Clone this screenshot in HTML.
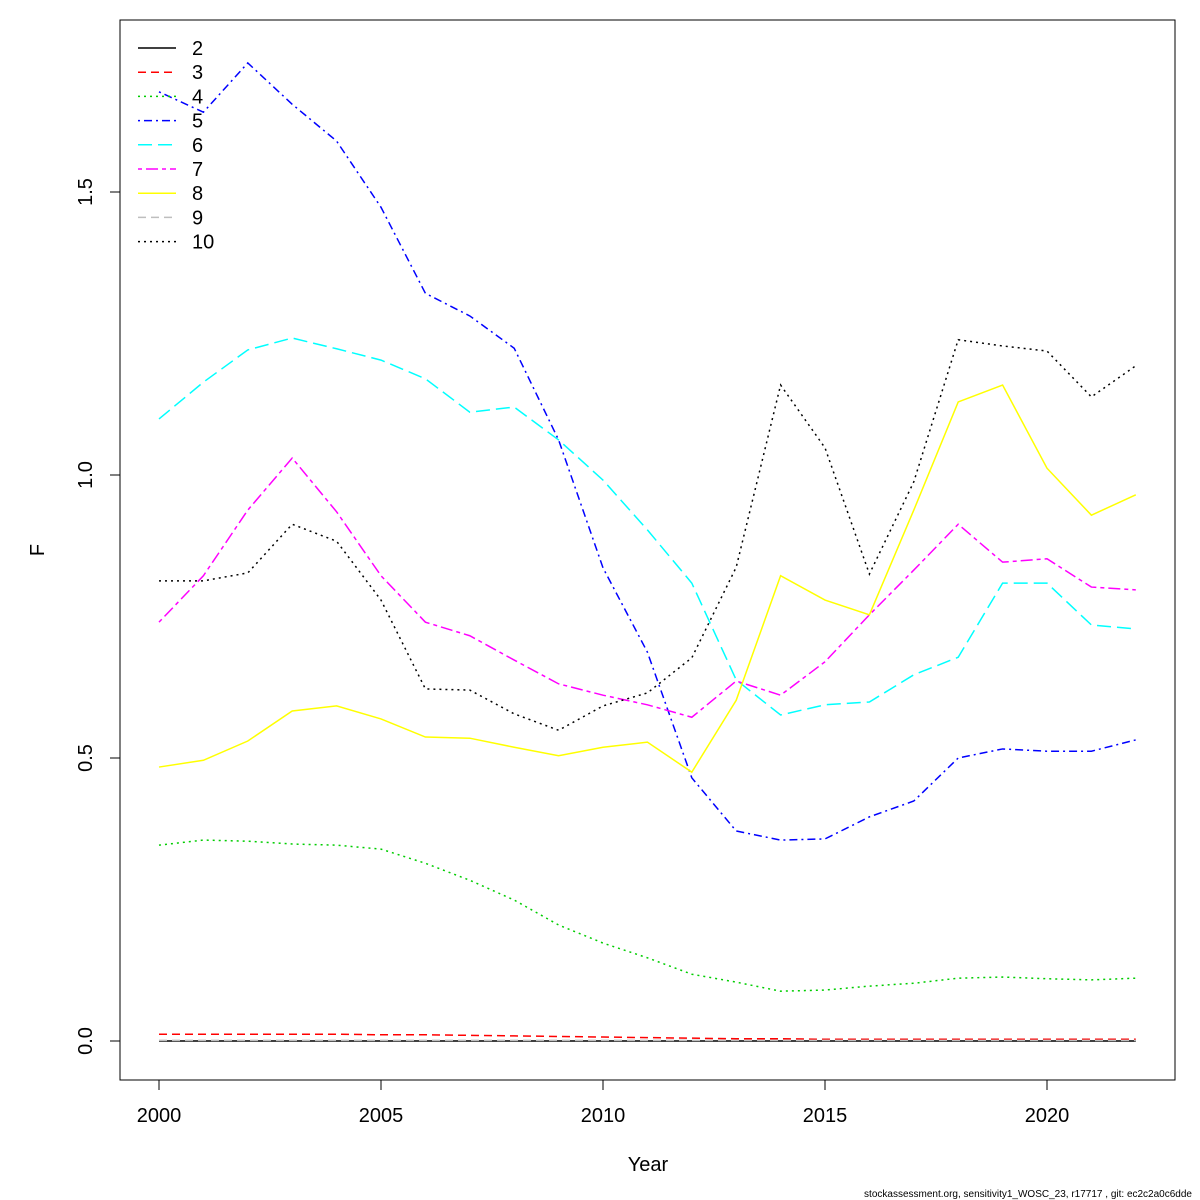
<!DOCTYPE html>
<html><head><meta charset="utf-8"><style>body{margin:0;background:#fff}svg{display:block}text{font-family:"Liberation Sans",sans-serif}</style></head>
<body>
<svg id="chart" width="1200" height="1200" xmlns="http://www.w3.org/2000/svg">
<rect x="0" y="0" width="1200" height="1200" fill="#fff"/>
<rect x="120" y="20" width="1055" height="1060" fill="none" stroke="#000" stroke-width="1"/>
<g id="axes"></g><g id="series"></g><g id="legend"></g>
<text x="648" y="1171" font-size="20" text-anchor="middle">Year</text>
<text x="0" y="0" font-size="20" text-anchor="middle" transform="translate(44,550) rotate(-90)">F</text>
<text x="1192" y="1197" font-size="10" text-anchor="end">stockassessment.org, sensitivity1_WOSC_23, r17717 , git: ec2c2a0c6dde</text>
</svg>
<script>
const years=[2000,2001,2002,2003,2004,2005,2006,2007,2008,2009,2010,2011,2012,2013,2014,2015,2016,2017,2018,2019,2020,2021,2022];
const xTicks=[2000,2005,2010,2015,2020];
const yTicks=[0.0,0.5,1.0,1.5];
const yTickLabels=["0.0","0.5","1.0","1.5"];
const seriesNames=["2","3","4","5","6","7","8","9","10"];
const age2=[0,0,0,0,0,0,0,0,0,0,0,0,0,0,0,0,0,0,0,0,0,0,0];
const age3=[0.012,0.012,0.012,0.012,0.012,0.011,0.011,0.010,0.009,0.008,0.007,0.006,0.005,0.004,0.004,0.003,0.003,0.003,0.003,0.003,0.003,0.003,0.003];
const age4=[0.346,0.355,0.353,0.348,0.346,0.339,0.314,0.284,0.249,0.205,0.173,0.147,0.118,0.104,0.088,0.090,0.097,0.102,0.111,0.113,0.110,0.108,0.111];
const age5=[1.677,1.641,1.728,1.655,1.59,1.473,1.321,1.281,1.224,1.062,0.836,0.687,0.465,0.371,0.355,0.357,0.396,0.424,0.5,0.516,0.512,0.512,0.532];
const age6=[1.099,1.164,1.221,1.242,1.223,1.203,1.170,1.111,1.12,1.062,0.991,0.903,0.809,0.638,0.576,0.594,0.599,0.647,0.678,0.809,0.809,0.735,0.728];
const age7=[0.740,0.822,0.938,1.03,0.935,0.822,0.740,0.716,0.673,0.631,0.611,0.594,0.572,0.636,0.611,0.670,0.753,0.832,0.913,0.846,0.852,0.802,0.797];
const age8=[0.484,0.496,0.530,0.583,0.592,0.569,0.537,0.535,0.519,0.504,0.519,0.528,0.475,0.602,0.822,0.779,0.753,0.938,1.129,1.159,1.012,0.929,0.965];
const age9=[0.001,0.001,0.001,0.001,0.001,0.001,0.001,0.001,0.001,0.001,0.001,0.001,0.001,0.001,0.001,0.001,0.001,0.001,0.001,0.001,0.001,0.001,0.001];
const age10=[0.813,0.813,0.827,0.913,0.883,0.779,0.622,0.620,0.578,0.549,0.592,0.615,0.677,0.837,1.159,1.048,0.825,0.988,1.239,1.228,1.219,1.138,1.193];
const allSeries=[age2,age3,age4,age5,age6,age7,age8,age9,age10];
const colors=["#000","#ff0000","#00cd00","#0000ff","#00ffff","#ff00ff","#ffff00","#bebebe","#000"];
const dashes=["","8,5","2,4","2,4,8,4","14,6","4,4,12,4","","8,5","2,4"];
const NS="http://www.w3.org/2000/svg";
const xs=y=>159+(y-2000)*44.4;
const ys=v=>1041-v*566;
function mk(tag,attrs,parent){const e=document.createElementNS(NS,tag);for(const k in attrs)e.setAttribute(k,attrs[k]);parent.appendChild(e);return e;}
const axes=document.getElementById('axes');
const xa=mk('line',{x1:xs(2000),x2:xs(2020),y1:1080,y2:1080,stroke:'#000'},axes);


xTicks.forEach(t=>{
 const l=mk('line',{x1:xs(t),x2:xs(t),y1:1080,y2:1090,stroke:'#000'},axes);
 
 
 const tx=mk('text',{x:xs(t),y:1122,'font-size':20,'text-anchor':'middle'},axes);tx.textContent=t;
 
 
});
const ya=mk('line',{x1:120,x2:120,y1:ys(0),y2:ys(1.5),stroke:'#000'},axes);


yTicks.forEach((t,i)=>{
 const l=mk('line',{x1:110,x2:120,y1:ys(t),y2:ys(t),stroke:'#000'},axes);
 
 
 const tx=mk('text',{x:0,y:0,'font-size':20,'text-anchor':'middle',transform:`translate(92,${ys(t)}) rotate(-90)`},axes);tx.textContent=yTickLabels[i];
 
 
});
const sg=document.getElementById('series');
allSeries.forEach((s,i)=>{
 const p=mk('polyline',{points:s.map((v,j)=>xs(years[j])+','+ys(v)).join(' '),fill:'none',stroke:colors[i],'stroke-width':1.5,'stroke-dasharray':dashes[i]},sg);
 
 
});
const lg=document.getElementById('legend');
seriesNames.forEach((n,i)=>{
 const y=48+i*24.2;
 const l=mk('line',{x1:138,x2:176,y1:y,y2:y,stroke:colors[i],'stroke-width':1.5,'stroke-dasharray':dashes[i]},lg);
 
 
 const t=mk('text',{x:192,y:y+7,'font-size':20},lg);t.textContent=n;
 
 
});
</script>
</body></html>
